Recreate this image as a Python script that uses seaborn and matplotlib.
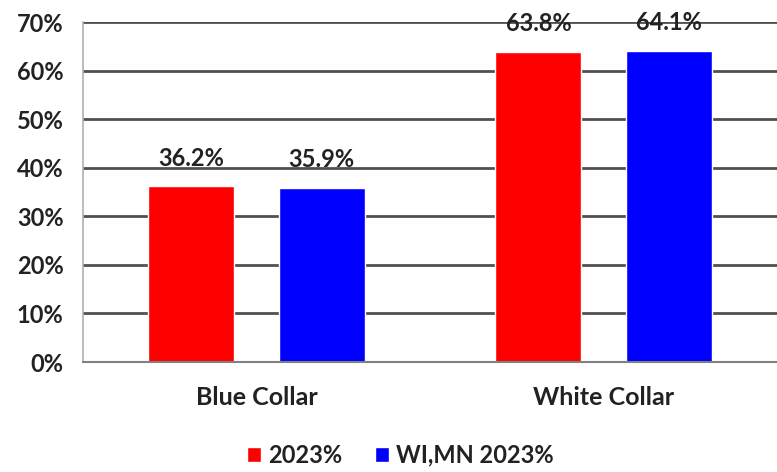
import matplotlib
matplotlib.use('Agg')
import matplotlib.pyplot as plt
import matplotlib.ticker as mticker
import seaborn as sns
import pandas as pd

categorias = ['Blue Collar', 'White Collar']
series = ['2023%', 'WI,MN 2023%']
valores_2023 = [36.2, 63.8]
valores_wimn = [35.9, 64.1]
cores = ['#ff0000', '#0000ff']

df = pd.DataFrame({
    'Categoria': categorias * 2,
    'Serie': [series[0]] * 2 + [series[1]] * 2,
    'Valor': valores_2023 + valores_wimn,
})

sns.set_style('white')
plt.rcParams['font.family'] = ['Lato', 'DejaVu Sans']

fig = plt.figure(figsize=(7.77, 4.72), dpi=100)
ax = fig.add_axes([83 / 777, 1 - 362 / 472, 1 - 83 / 777, (362 - 22) / 472])

sns.barplot(data=df, x='Categoria', y='Valor', hue='Serie', palette=cores,
            width=0.75, gap=0.34, saturation=1, ax=ax, legend=True)

ax.set_ylim(0, 70)
ax.set_xlim(-0.5, 1.5)
ax.yaxis.set_major_locator(mticker.MultipleLocator(10))
ax.yaxis.set_major_formatter(mticker.FuncFormatter(lambda v, p: f'{v:.0f}%'))
ax.grid(axis='y', color='#505050', linewidth=2)
ax.set_axisbelow(True)
ax.set_xlabel('')
ax.set_ylabel('')

for s in ['top', 'right']:
    ax.spines[s].set_visible(False)
ax.spines['left'].set_color('#b0b0b0')
ax.spines['left'].set_linewidth(1.2)
ax.spines['bottom'].set_color('#808080')
ax.spines['bottom'].set_linewidth(1.5)

ax.tick_params(axis='y', which='major', length=6, width=1.2, color='#b0b0b0',
               pad=8, labelsize=17, labelcolor='#222222')
ax.tick_params(axis='x', which='major', length=0, pad=17, labelsize=18,
               labelcolor='#222222')
ax.xaxis.set_minor_locator(mticker.FixedLocator([0.5, 1.5]))
ax.tick_params(axis='x', which='minor', length=7, width=1.2, color='#b0b0b0')
for lbl in ax.get_xticklabels() + ax.get_yticklabels():
    lbl.set_fontweight('bold')

for cont in ax.containers:
    ax.bar_label(cont, labels=[f'{v:.1f}%' for v in cont.datavalues],
                 padding=12, fontsize=17, fontweight='bold', color='#222222')

leg = ax.legend(loc='lower center', bbox_to_anchor=(0.457, -0.37),
                ncol=2, frameon=False, handlelength=0.6, handleheight=0.6,
                handletextpad=0.3, columnspacing=1.4, fontsize=17,
                bbox_transform=ax.transAxes)
for t in leg.get_texts():
    t.set_fontweight('bold')
    t.set_color('#222222')

fig.savefig('out.png', dpi=100, facecolor='white')
